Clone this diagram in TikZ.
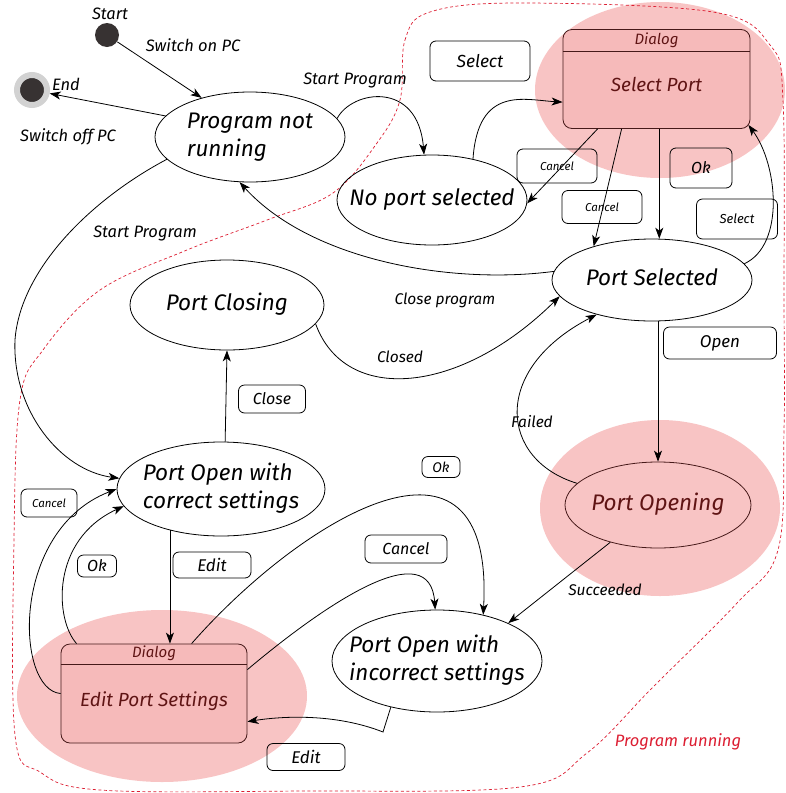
\documentclass[tikz,border=0pt]{standalone}
\usepackage{fontspec}
\setmainfont{Fira Sans}
\usetikzlibrary{shapes.geometric,arrows.meta}
\definecolor{halopink}{RGB}{248,196,196}
\definecolor{dlgfill}{RGB}{246,186,186}
\definecolor{dlgline}{RGB}{70,25,25}
\definecolor{dlgtext}{RGB}{95,20,20}
\definecolor{runred}{RGB}{220,30,50}
\definecolor{dotgray}{RGB}{55,50,50}
% state text that does not widen the ellipse
\newcommand\stlines[1]{\makebox[0pt]{\begin{tabular}{@{}l@{}}#1\end{tabular}}}
\begin{document}
\begin{tikzpicture}[x=1pt,y=-1pt,line width=0.8pt,
    state/.style={draw,ellipse,inner sep=0pt,font=\fontsize{22.5}{28}\selectfont\itshape},
    dialog/.style={draw=dlgline,fill=dlgfill,rounded corners=9pt,minimum width=187pt,minimum height=99pt,inner sep=0pt},
    dlgtxt/.style={text=dlgtext,inner sep=0pt,font=\fontsize{#1}{#1}\selectfont\itshape},
    dlgtxt/.default=19,
    tbox/.style={draw,rounded corners=6pt,inner sep=0pt,font=\fontsize{#1}{#1}\selectfont\itshape},
    tbox/.default=16,
    lbl/.style={inner sep=1pt,font=\fontsize{#1}{#1}\selectfont\itshape},
    lbl/.default=16.5,
    startdot/.style={circle,fill=dotgray,inner sep=0pt,minimum size=24pt},
    enddot/.style={circle,fill=dotgray,draw=gray!35,line width=6pt,inner sep=0pt,minimum size=30pt},
    arr/.style={-{Stealth[length=11pt,width=8pt,inset=3pt]}},
    run/.style={draw=runred,dash pattern=on 3pt off 2.5pt,line width=0.7pt}]
  \useasboundingbox (0,0) rectangle (785,793);

  % highlighted states
  \fill[halopink] (660,90) ellipse [x radius=125,y radius=88];
  \fill[halopink] (660,508) ellipse [x radius=120,y radius=88];
  \fill[halopink] (162,696) ellipse [x radius=145,y radius=86];

  % program running region
  \draw[run] plot[smooth cycle,tension=0.6] coordinates {(400,100) (405,40) (430,12) (520,3) (713,12) (770,45) (783,100) (784,300) (784,430) (778,550) (737,603) (653,687) (587,753) (520,787) (300,791) (100,790) (40,772) (15,735) (14,540) (20,400) (43,350) (100,290) (187,250) (267,220) (333,193) (377,143)};
  \node[lbl,text=runred] (runlbl) at (678,742) {Program running};

  % states
  \node[startdot] (start) at (107,35) {};
  \node[enddot] (end) at (32,90) {};
  \node[state,minimum width=190pt,minimum height=90pt] (pnr) at (250,137) {\stlines{Program not\\running}};
  \node[state,minimum width=190pt,minimum height=90pt] (nps) at (432,200) {\stlines{No port selected}};
  \node[state,minimum width=200pt,minimum height=82pt] (ps) at (652,280) {\stlines{Port Selected}};
  \node[state,minimum width=194pt,minimum height=90pt] (pc) at (227,305) {\stlines{Port Closing}};
  \node[state,minimum width=208pt,minimum height=94pt] (poc) at (221,489) {\stlines{Port Open with\\correct settings}};
  \node[state,draw=dlgline,text=dlgtext,minimum width=186pt,minimum height=86pt] (po) at (658,505) {\stlines{Port Opening}};
  \node[state,minimum width=210pt,minimum height=102pt] (poi) at (437,661) {\stlines{Port Open with\\incorrect settings}};

  % dialogs
  \node[dialog] (selport) at (656.5,79) {};
  \draw[dlgline] ([yshift=-22pt]selport.north west) -- ([yshift=-22pt]selport.north east);
  \node[dlgtxt=15] (selhead) at ([yshift=-11pt]selport.north) {Dialog};
  \node[dlgtxt] (seltxt) at ([yshift=-5pt]selport.center) {Select Port};
  \node[dialog,minimum width=186pt] (eps) at (154,693.5) {};
  \draw[dlgline] ([yshift=-21pt]eps.north west) -- ([yshift=-21pt]eps.north east);
  \node[dlgtxt=15] (epshead) at ([yshift=-10pt]eps.north) {Dialog};
  \node[dlgtxt] (epstxt) at ([yshift=-8pt]eps.center) {Edit Port Settings};

  % transition labels
  \node[lbl] (startlbl) at (110,14) {Start};
  \node[lbl] (endlbl) at (66,84) {End};
  \node[lbl] (onlbl) at (193,45) {Switch on PC};
  \node[lbl] (offlbl) at (68,137) {Switch off PC};
  \node[lbl] (sp1lbl) at (355,80) {Start Program};
  \node[lbl] (sp2lbl) at (145,233) {Start Program};
  \node[lbl=15.5] (cplbl) at (445,300) {Close program};
  \node[lbl=15.5] (closedlbl) at (400,357) {Closed};
  \node[lbl=15.5] (faillbl) at (532,422) {Failed};
  \node[lbl=15.5] (succlbl) at (605,590) {Succeeded};

  \node[tbox=17.5,minimum width=100pt,minimum height=40pt] (selbox) at (480,61) {Select};
  \node[tbox=11.5,minimum width=80pt,minimum height=34pt] (can1box) at (557,166) {Cancel};
  \node[tbox=11.5,minimum width=80pt,minimum height=33pt] (can2box) at (602,207) {Cancel};
  \node[tbox=16,minimum width=62pt,minimum height=40pt] (ok1box) at (701,168) {Ok};
  \node[tbox=13,minimum width=81pt,minimum height=40pt] (sel2box) at (737,219) {Select};
  \node[tbox=17,minimum width=113pt,minimum height=32pt] (openbox) at (720,343) {Open};
  \node[tbox,minimum width=67pt,minimum height=28pt] (closebox) at (272,399) {Close};
  \node[tbox=11.5,minimum width=56pt,minimum height=28pt] (can3box) at (49,503) {Cancel};
  \node[tbox,minimum width=39pt,minimum height=22pt] (ok2box) at (97,566) {Ok};
  \node[tbox=17,minimum width=78pt,minimum height=26pt] (edit1box) at (212,565) {Edit};
  \node[tbox=14,minimum width=38pt,minimum height=21pt] (ok3box) at (441,467) {Ok};
  \node[tbox,minimum width=82pt,minimum height=28pt] (can4box) at (406,549) {Cancel};
  \node[tbox=17,minimum width=78pt,minimum height=27pt] (edit2box) at (306,757) {Edit};

  % transitions
  \draw[arr] (start) -- (pnr.141);
  \draw[arr] (pnr.166) -- (end);
  \draw[arr] (pnr.12) .. controls (352,90) and (418,80) .. (nps.100);
  \draw[arr] (nps.45) .. controls (478,85) and (525,100) .. ([yshift=-73pt]selport.north west);
  \draw[arr] ([xshift=35pt]selport.south west) -- (nps.-2);
  \draw[arr] ([xshift=59pt]selport.south west) -- (ps.150);
  \draw[arr] (selport.south -| ps.80) -- (ps.80);
  \draw[arr] (ps.10) .. controls (785,245) and (778,165) .. ([shift={(-2pt,4pt)}]selport.south east);
  \draw[arr] (ps.175) .. controls (450,285) and (310,260) .. (pnr.257);
  \draw[arr] (pc.-12) .. controls (345,405) and (460,395) .. (ps.190);
  \draw[arr] (pnr.195) .. controls (90,200) and (20,270) .. (15,340) .. controls (12,410) and (60,470) .. (poc.174);
  \draw[arr] (poc.85) -- (pc.south);
  \draw[arr] (ps.south -| po.north) -- (po.north);
  \draw[arr] (po.165) .. controls (500,460) and (490,370) .. (ps.212);
  \draw[arr] (po.218) -- (poi.28);
  \draw[arr] (poc.219) -- (poc.219 |- eps.north);
  \draw[arr] ([xshift=16pt]eps.north west) .. controls (55,620) and (50,540) .. (poc.190);
  \draw[arr] (eps.west) .. controls (15,690) and (10,530) .. (poc.west);
  \draw[arr] ([xshift=131pt]eps.north west) .. controls (300,520) and (495,400) .. (poi.45);
  \draw[arr] ([yshift=-26pt]eps.north east) .. controls (330,600) and (430,535) .. (poi.92);
  \coordinate (kink) at (383,732);
  \draw[arr] (poi.225) -- (kink) .. controls (340,715) and (290,715) .. ([yshift=-78pt]eps.north east);
\end{tikzpicture}
\end{document}
